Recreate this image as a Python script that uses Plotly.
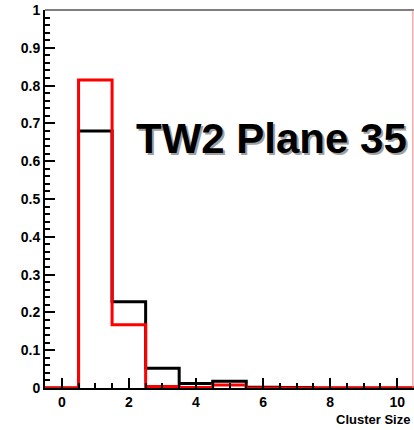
import plotly.graph_objects as go

# Cluster size bins (0..10) and normalised fractions for the two histograms
cluster_size = [0, 1, 2, 3, 4, 5, 6, 7, 8, 9, 10]
black_frac = [0.0, 0.68, 0.228, 0.052, 0.012, 0.018, 0.002, 0.001, 0.0, 0.0, 0.0]
red_frac = [0.0, 0.815, 0.167, 0.004, 0.001, 0.008, 0.0, 0.0, 0.0, 0.0, 0.0]

y_tick_vals = [0, 0.1, 0.2, 0.3, 0.4, 0.5, 0.6, 0.7, 0.8, 0.9, 1]
y_tick_text = ["0", "0.1", "0.2", "0.3", "0.4", "0.5", "0.6", "0.7", "0.8", "0.9", "1"]
x_tick_vals = [0, 2, 4, 6, 8, 10]


def step_points(centers, values):
    """Build hv step coordinates for a unit-width histogram."""
    xs = [c - 0.5 for c in centers] + [centers[-1] + 0.5]
    ys = list(values) + [values[-1]]
    return xs, ys


fig = go.Figure()
for vals, col in [(black_frac, "black"), (red_frac, "#ff0000")]:
    xs, ys = step_points(cluster_size, vals)
    fig.add_trace(go.Scatter(
        x=xs, y=ys, mode="lines", line=dict(color=col, width=3, shape="hv"),
        showlegend=False, hoverinfo="skip", cliponaxis=False,
    ))

tick_font = dict(family="Liberation Sans, Arial, sans-serif", size=14,
                 color="black", weight="bold")

fig.update_layout(
    width=414, height=430,
    margin=dict(l=45, r=0, t=10, b=42),
    paper_bgcolor="white", plot_bgcolor="white",
    xaxis=dict(
        range=[-0.5, 10.5], showgrid=False, zeroline=False,
        showline=True, linecolor="black", linewidth=2,
        ticks="inside", ticklen=10, tickwidth=1.5, tickcolor="black",
        tickmode="array", tickvals=x_tick_vals,
        ticktext=[str(v) for v in x_tick_vals],
        tickfont=tick_font,
        minor=dict(dtick=0.5, tick0=0, ticks="inside", ticklen=5,
                   tickwidth=1.5, tickcolor="black", showgrid=False),
    ),
    yaxis=dict(
        range=[0, 1], showgrid=False, zeroline=False,
        showline=True, linecolor="black", linewidth=2,
        ticks="inside", ticklen=10, tickwidth=1.5, tickcolor="black",
        tickmode="array", tickvals=y_tick_vals, ticktext=y_tick_text,
        tickfont=tick_font,
        minor=dict(dtick=0.02, tick0=0, ticks="inside", ticklen=5,
                   tickwidth=1.5, tickcolor="black", showgrid=False),
    ),
    shapes=[
        # top and right frame edges
        dict(type="line", xref="paper", yref="paper", x0=0, x1=1, y0=1, y1=1,
             line=dict(color="#555555", width=1.5)),
        dict(type="line", xref="paper", yref="paper", x0=0.997, x1=0.997, y0=0, y1=1,
             line=dict(color="#f08080", width=1)),
    ],
)

title_text = "TW2 Plane 35"
# drop shadow first, then the label on top
for dx, dy, col in [(2, -2, "#a0a0a0"), (0, 0, "black")]:
    fig.add_annotation(
        x=1.0, y=0.659, xref="paper", yref="paper", xanchor="right", yanchor="middle",
        xshift=-5 + dx, yshift=dy, showarrow=False, text=title_text,
        font=dict(family="Liberation Sans, Arial", size=42, color=col, weight="bold"),
    )

fig.add_annotation(
    x=1.0, y=0, xref="paper", yref="paper", xanchor="right", yanchor="top",
    xshift=-2, yshift=-22, showarrow=False, text="Cluster Size",
    font=dict(family="Liberation Sans, Arial", size=13, color="black", weight="bold"),
)

fig.write_html("out.html")
